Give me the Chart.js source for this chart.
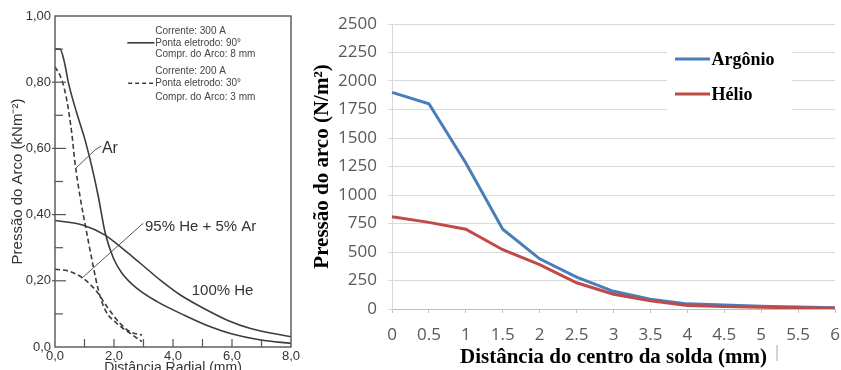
<!DOCTYPE html>
<html><head><meta charset="utf-8">
<script src="https://cdn.jsdelivr.net/npm/chart.js@4.4.1/dist/chart.umd.min.js"></script>
<style>
html,body{margin:0;padding:0;background:#fff;overflow:hidden;width:841px;height:370px}
#w1{position:absolute;left:0;top:0;width:300px;height:390px}
#w2{position:absolute;left:300px;top:0;width:541px;height:370px}
</style></head><body>
<div id="w1"><canvas id="c1" width="300" height="390"></canvas></div>
<div id="w2"><canvas id="c2" width="541" height="370"></canvas></div>
<script>
// ---------- Left panel: Pressão do Arco vs Distância Radial ----------
const arSolidX  = [0, 0.17, 0.34, 0.45, 0.74, 1.02, 1.25, 1.47, 1.7, 1.98, 2.27, 2.78, 3.46, 4.36, 5.27, 6.01, 6.97, 8.0];
const arSolidY  = [0.90, 0.90, 0.852, 0.80, 0.706, 0.625, 0.544, 0.454, 0.345, 0.268, 0.223, 0.177, 0.137, 0.097, 0.061, 0.039, 0.021, 0.011];
const heSolidX  = [0, 0.96, 1.7, 2.21, 2.89, 3.57, 4.25, 4.93, 5.84, 6.63, 8.0];
const heSolidY  = [0.382, 0.368, 0.338, 0.303, 0.253, 0.202, 0.157, 0.122, 0.081, 0.056, 0.031];
const arDashX   = [0, 0.23, 0.4, 0.57, 0.68, 0.85, 1.08, 1.3, 1.47, 1.7, 2.1, 2.55, 2.95];
const arDashY   = [0.847, 0.807, 0.746, 0.645, 0.555, 0.454, 0.343, 0.242, 0.172, 0.112, 0.071, 0.041, 0.016];
const heDashX   = [0, 0.51, 0.96, 1.42, 1.76, 2.21, 2.55, 2.95];
const heDashY   = [0.235, 0.228, 0.207, 0.167, 0.122, 0.071, 0.046, 0.036];
const leftYLabels = {0:'0,0', 0.2:'0,20', 0.4:'0,40', 0.6:'0,60', 0.8:'0,80', 1:'1,00'};
const leftXLabels = {0:'0,0', 2:'2,0', 4:'4,0', 6:'6,0', 8:'8,0'};
const legendLines = ['Corrente: 300 A','Ponta eletrodo: 90°','Compr. do Arco: 8 mm','Corrente: 200 A','Ponta eletrodo: 30°','Compr. do Arco: 3 mm'];

// ---------- Right panel ----------
const distCategories = ['0','0.5','1','1.5','2','2.5','3','3.5','4','4.5','5','5.5','6'];
const argonio = [1900, 1800, 1280, 700, 440, 280, 155, 85, 45, 35, 25, 18, 12];
const helio   = [810, 760, 700, 520, 390, 230, 130, 72, 30, 22, 15, 10, 7];
const seriesNames = ['Argônio', 'Hélio'];

const zip = (xs, ys) => xs.map((x, i) => ({x, y: ys[i]}));
const INK = '#3c3c3c';

const leftDecor = {
  id: 'leftDecor',
  afterDraw(chart) {
    const {ctx, chartArea: a, scales: {x, y}} = chart;
    ctx.save();
    ctx.strokeStyle = '#555'; ctx.lineWidth = 1.4;
    ctx.strokeRect(a.left, a.top, a.right - a.left, a.bottom - a.top);
    // inward ticks
    ctx.lineWidth = 1.2;
    for (let k = 1; k < 10; k++) {
      const py = y.getPixelForValue(k / 10);
      const major = k % 2 === 0;
      ctx.beginPath();
      ctx.moveTo(a.left - (major ? 3 : 0), py);
      ctx.lineTo(a.left + (major ? 11 : 8), py);
      ctx.stroke();
    }
    for (let k = 1; k < 8; k++) {
      const px = x.getPixelForValue(k);
      ctx.beginPath(); ctx.moveTo(px, a.bottom); ctx.lineTo(px, a.bottom - 8); ctx.stroke();
    }
    // annotations
    ctx.fillStyle = '#333'; ctx.textBaseline = 'middle';
    const P = (vx, vy) => [x.getPixelForValue(vx), y.getPixelForValue(vy)];
    ctx.font = '16px "Liberation Sans", Arial, sans-serif';
    ctx.textAlign = 'left';
    let p = P(1.59, 0.60); ctx.fillText('Ar', p[0], p[1]);
    ctx.font = '15px "Liberation Sans", Arial, sans-serif';
    p = P(3.05, 0.363); ctx.fillText('95% He + 5% Ar', p[0], p[1]);
    ctx.textAlign = 'center';
    p = P(5.68, 0.17); ctx.fillText('100% He', p[0], p[1]);
    // leader lines
    ctx.strokeStyle = '#555'; ctx.lineWidth = 1;
    const poly = (pts) => { ctx.beginPath(); pts.forEach((q, i) => { const r = P(q[0], q[1]); i ? ctx.lineTo(r[0], r[1]) : ctx.moveTo(r[0], r[1]); }); ctx.stroke(); };
    poly([[1.57, 0.607], [1.38, 0.597], [0.68, 0.538]]);
    poly([[2.99, 0.374], [0.90, 0.207]]);
    // legend
    const ys = [0.953, 0.919, 0.884, 0.832, 0.797, 0.756];
    ctx.font = '10px "Liberation Sans", Arial, sans-serif';
    ctx.textAlign = 'left'; ctx.fillStyle = '#444';
    legendLines.forEach((t, i) => { const r = P(3.40, ys[i]); ctx.fillText(t, r[0], r[1]); });
    ctx.strokeStyle = INK; ctx.lineWidth = 1.6;
    let s0 = P(2.45, ys[1]), s1 = P(3.37, ys[1]);
    ctx.beginPath(); ctx.moveTo(s0[0], s0[1]); ctx.lineTo(s1[0], s1[1]); ctx.stroke();
    ctx.setLineDash([4, 3]);
    s0 = P(2.48, ys[4]); s1 = P(3.37, ys[4]);
    ctx.beginPath(); ctx.moveTo(s0[0], s0[1]); ctx.lineTo(s1[0], s1[1]); ctx.stroke();
    ctx.restore();
  }
};

const lineDs = (data, dash) => ({
  data, borderColor: INK, borderWidth: 1.6, pointRadius: 0,
  borderDash: dash ? [5, 3] : [], cubicInterpolationMode: 'monotone', fill: false
});

new Chart(document.getElementById('c1'), {
  type: 'line',
  data: { datasets: [
    lineDs(zip(arSolidX, arSolidY), false),
    lineDs(zip(heSolidX, heSolidY), false),
    lineDs(zip(arDashX, arDashY), true),
    lineDs(zip(heDashX, heDashY), true)
  ]},
  options: {
    responsive: false, animation: false, devicePixelRatio: 1,
    layout: { padding: { top: 16, right: 9, left: 0, bottom: 0 } },
    plugins: { legend: { display: false }, tooltip: { enabled: false } },
    scales: {
      x: {
        type: 'linear', min: 0, max: 8,
        grid: { display: false, drawTicks: false }, border: { display: false },
        ticks: { stepSize: 2, padding: 2, color: '#333', font: { family: '"Liberation Sans", Arial, sans-serif', size: 13 },
                 callback: v => leftXLabels[v] ?? '' , maxRotation: 0},
        title: { display: true, text: 'Distância Radial (mm)', color: '#333',
                 font: { family: '"Liberation Sans", Arial, sans-serif', size: 14 }, padding: { top: 0, bottom: 13 } },
        afterFit: s => { s.height = 43; s.paddingLeft = 0; s.paddingRight = 0; }
      },
      y: {
        min: 0, max: 1,
        grid: { display: false, drawTicks: false }, border: { display: false },
        ticks: { stepSize: 0.2, padding: 4, color: '#333', font: { family: '"Liberation Sans", Arial, sans-serif', size: 13 },
                 callback: v => leftYLabels[Math.round(v * 10) / 10] ?? '' },
        title: { display: true, text: 'Pressão do Arco (kNm⁻²)', color: '#333',
                 font: { family: '"Liberation Sans", Arial, sans-serif', size: 15 }, padding: { top: 9, bottom: 0 } },
        afterFit: s => { s.width = 55; s.paddingTop = 0; s.paddingBottom = 0; }
      }
    }
  },
  plugins: [leftDecor]
});

// ---------- Right chart ----------
const rightDecor = {
  id: 'rightDecor',
  afterDraw(chart) {
    const {ctx, chartArea: a} = chart;
    ctx.save();
    const bx = a.left + 275, by = 42;
    ctx.fillStyle = '#fff';
    ctx.fillRect(bx, by, 125, 70);
    const cols = chart.data.datasets.map(d => d.borderColor);
    const rows = [by + 17, by + 52];
    ctx.font = 'bold 18px "Liberation Serif", "Times New Roman", serif';
    ctx.textBaseline = 'middle'; ctx.textAlign = 'left'; ctx.fillStyle = '#000';
    seriesNames.forEach((n, i) => {
      ctx.strokeStyle = cols[i]; ctx.lineWidth = 3;
      ctx.beginPath(); ctx.moveTo(bx + 8, rows[i]); ctx.lineTo(bx + 43, rows[i]); ctx.stroke();
      ctx.fillText(n, bx + 44.5, rows[i] + 1);
    });
    ctx.strokeStyle = '#aaa'; ctx.lineWidth = 1;
    ctx.beginPath(); ctx.moveTo(a.left + 385, 345); ctx.lineTo(a.left + 385, 361); ctx.stroke();
    ctx.restore();
  }
};

const tickFont = { family: '"Open Sans", "Liberation Sans", sans-serif', size: 17 };
new Chart(document.getElementById('c2'), {
  type: 'line',
  data: {
    labels: distCategories,
    datasets: [
      { label: seriesNames[0], data: argonio, borderColor: '#4a7ebb', borderWidth: 3, pointRadius: 0, tension: 0, order: 1 },
      { label: seriesNames[1], data: helio, borderColor: '#be4b48', borderWidth: 3, pointRadius: 0, tension: 0, order: 0 }
    ]
  },
  options: {
    responsive: false, animation: false, devicePixelRatio: 1,
    layout: { padding: { top: 24, right: 6, left: 0, bottom: 0 } },
    plugins: { legend: { display: false }, tooltip: { enabled: false } },
    scales: {
      x: {
        offset: false,
        grid: { display: true, drawOnChartArea: false, drawTicks: true, tickLength: 4, color: '#bfbfbf' },
        border: { display: true, color: '#bfbfbf' },
        ticks: { padding: 12, color: '#595959', font: tickFont, maxRotation: 0, autoSkip: false },
        title: { display: true, text: 'Distância do centro da solda (mm)', color: '#000',
                 font: { family: '"Liberation Serif", "Times New Roman", serif', size: 21, weight: 'bold' }, padding: { top: 0, bottom: 0 } },
        afterFit: s => { s.height = 61; s.paddingLeft = 0; s.paddingRight = 0; }
      },
      y: {
        min: 0, max: 2500,
        grid: { color: '#d9d9d9', drawTicks: true, tickLength: 4 },
        border: { display: true, color: '#d9d9d9' },
        ticks: { stepSize: 250, padding: 11, color: '#595959', font: tickFont, callback: v => String(v) },
        title: { display: true, text: 'Pressão do arco (N/m²)', color: '#000',
                 font: { family: '"Liberation Serif", "Times New Roman", serif', size: 21, weight: 'bold' }, padding: { top: 10, bottom: 0 } },
        afterFit: s => { s.width = 92; s.paddingTop = 0; s.paddingBottom = 0; }
      }
    }
  },
  plugins: [rightDecor]
});
</script>
</body></html>
